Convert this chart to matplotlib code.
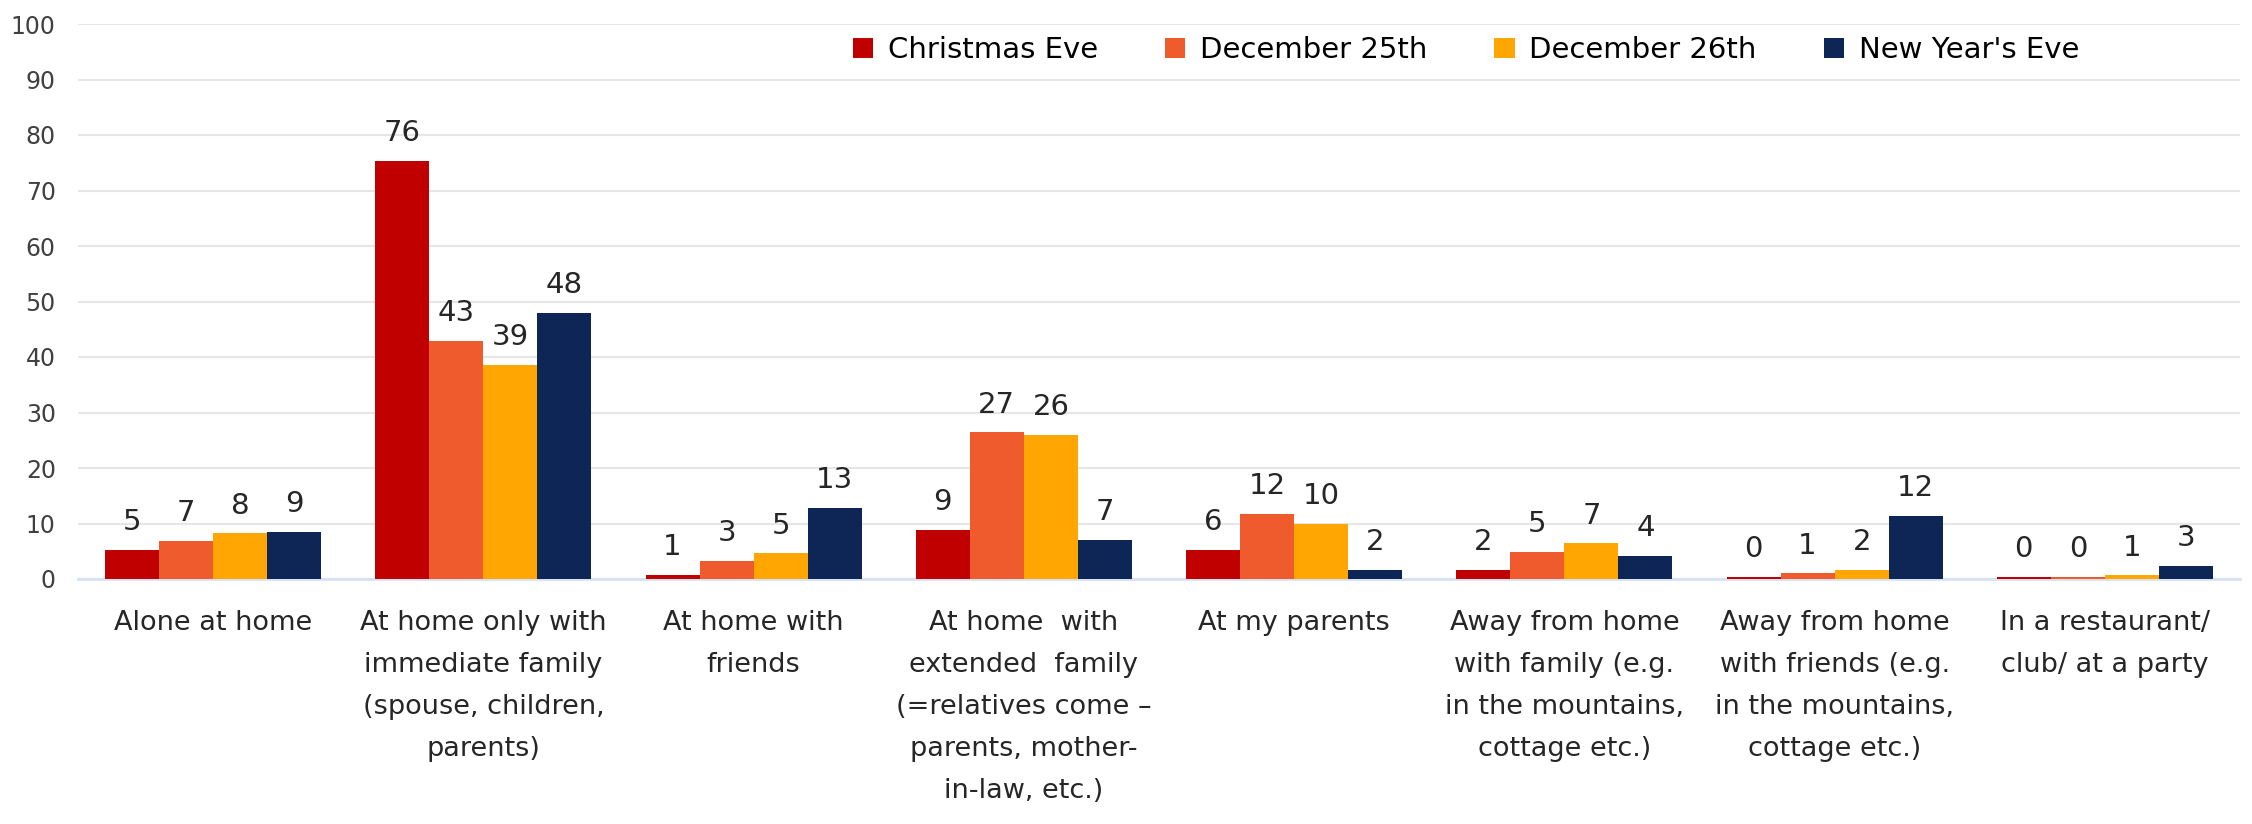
import matplotlib.pyplot as plt
import numpy as np

# categories and series
categories = [
    "Alone at home",
    "At home only with\nimmediate family\n(spouse, children,\nparents)",
    "At home with\nfriends",
    "At home  with\nextended  family\n(=relatives come \u2013\nparents, mother-\nin-law, etc.)",
    "At my parents",
    "Away from home\nwith family (e.g.\nin the mountains,\ncottage etc.)",
    "Away from home\nwith friends (e.g.\nin the mountains,\ncottage etc.)",
    "In a restaurant/\nclub/ at a party",
]
series = ["Christmas Eve", "December 25th", "December 26th", "New Year's Eve"]

christmas_eve = [5.3, 75.4, 0.7, 8.9, 5.3, 1.7, 0.3, 0.3]
december_25 = [6.8, 42.9, 3.2, 26.4, 11.7, 4.9, 1.0, 0.3]
december_26 = [8.2, 38.6, 4.6, 26.0, 9.9, 6.4, 1.7, 0.65]
new_years_eve = [8.55, 47.9, 12.8, 7.1, 1.7, 4.2, 11.4, 2.4]

christmas_eve_lbl = [5, 76, 1, 9, 6, 2, 0, 0]
december_25_lbl = [7, 43, 3, 27, 12, 5, 1, 0]
december_26_lbl = [8, 39, 5, 26, 10, 7, 2, 1]
new_years_eve_lbl = [9, 48, 13, 7, 2, 4, 12, 3]

colors = ["#C00000", "#EF5B2D", "#FFA602", "#0D2656"]

values = [christmas_eve, december_25, december_26, new_years_eve]
labels = [christmas_eve_lbl, december_25_lbl, december_26_lbl, new_years_eve_lbl]

fig = plt.figure(figsize=(22.52, 8.24), dpi=100)
ax = fig.add_axes([78 / 2252, 1 - 579 / 824, (2240 - 78) / 2252, (579 - 24) / 824])

x = np.arange(len(categories))
w = 0.2
for i, (vals, lbls) in enumerate(zip(values, labels)):
    pos = x + (i - 1.5) * w
    bars = ax.bar(pos, vals, width=w, color=colors[i], label=series[i], zorder=3)
    for b, l in zip(bars, lbls):
        ax.text(b.get_x() + b.get_width() / 2, b.get_height() + 2.5, str(l),
                ha="center", va="bottom", fontsize=21, color="#262626")

ax.set_ylim(0, 100)
ax.set_xlim(-0.5, len(categories) - 0.5)
ax.set_yticks(range(0, 101, 10))
ax.yaxis.grid(True, color="#E6E6E6", linewidth=1.5, zorder=0)
ax.set_axisbelow(True)
for s in ["top", "right", "left"]:
    ax.spines[s].set_visible(False)
ax.spines["bottom"].set_color("#D6E2F3")
ax.spines["bottom"].set_linewidth(2)
ax.tick_params(axis="y", length=0, labelsize=17, labelcolor="#404040", pad=16)
ax.tick_params(axis="x", length=0, pad=22)
ax.set_xticks(x)
ax.set_xticklabels(categories, fontsize=19.5, color="#262626", linespacing=1.8, va="top")

ax.legend(loc="upper center", bbox_to_anchor=(0.642, 1.025), ncol=4, frameon=False,
          fontsize=21, handlelength=0.7, handleheight=0.7, columnspacing=2.3,
          handletextpad=0.5)

fig.savefig("out.png", dpi=100)
